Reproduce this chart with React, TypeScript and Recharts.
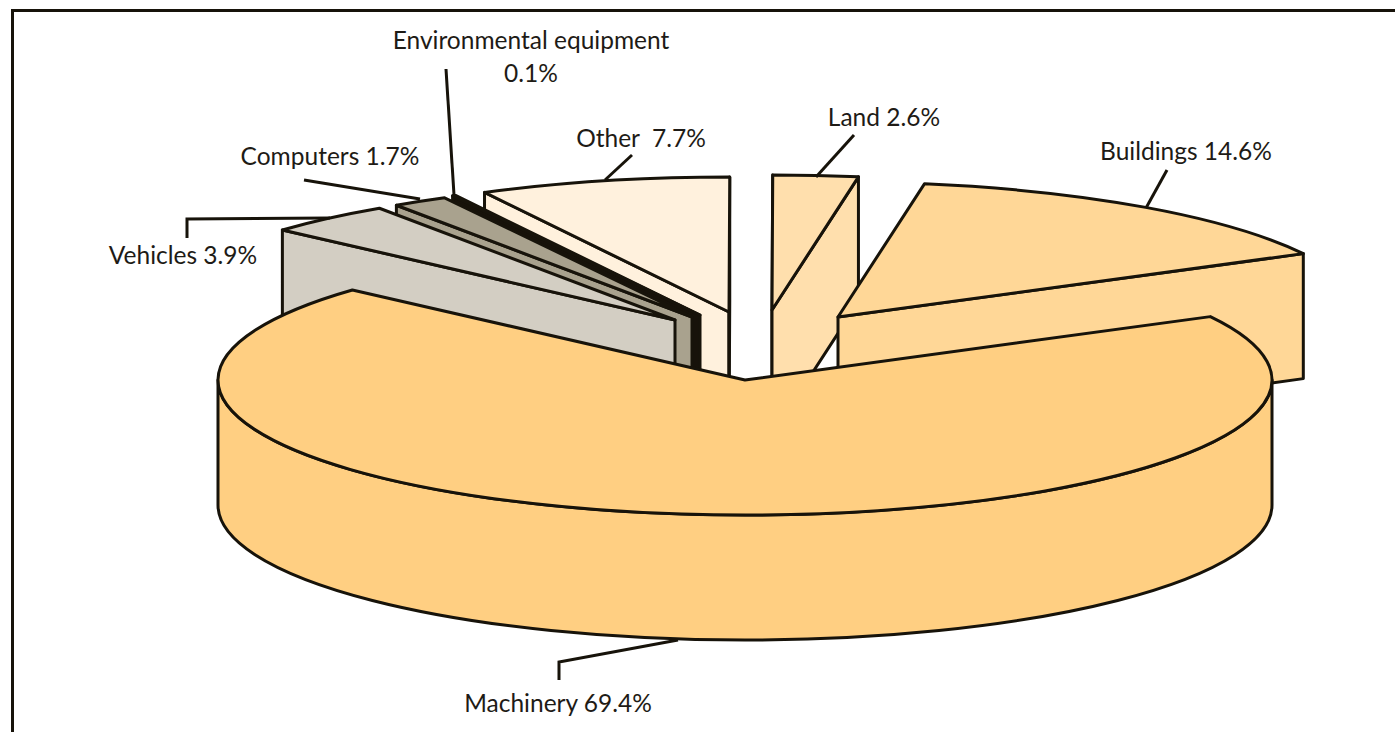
import React from "react";
import { PieChart, Pie } from "recharts";

const categories = ["Buildings", "Land", "Other", "Environmental equipment", "Computers", "Vehicles", "Machinery"];
const shares = [14.6, 2.6, 7.7, 0.1, 1.7, 3.9, 69.4];
const chartData = categories.map((name, i) => ({ name, value: shares[i] }));

const paintOrder = ["Land", "Buildings", "Other", "Environmental equipment", "Computers", "Vehicles", "Machinery"];

const fills: Record<string, string> = {
  Buildings: "#FFD797",
  Land: "#FFDFAD",
  Other: "#FFF1DD",
  "Environmental equipment": "#17120A",
  Computers: "#A9A28E",
  Vehicles: "#D3CEC3",
  Machinery: "#FFCF82",
};
const explode: Record<string, [number, number]> = {
  Buildings: [92, -63],
  Land: [26, -70],
  Other: [-17, -68],
  "Environmental equipment": [-46, -65],
  Computers: [-54, -63],
  Vehicles: [-71, -60],
  Machinery: [-1, 0],
};
const leaders: Record<string, number[][]> = {
  Buildings: [[1167, 170], [1146, 208]],
  Land: [[854, 135], [816, 177]],
  Other: [[632, 155], [605, 180]],
  "Environmental equipment": [[446, 69], [454, 195]],
  Computers: [[304, 180], [420, 199]],
  Vehicles: [[330, 218], [187, 219], [187, 238]],
  Machinery: [[678, 640], [559, 662], [559, 680]],
};
const labelSpots: Record<string, { x: number; y: number[]; lines: (v: number) => string[] }> = {
  Buildings: { x: 1186, y: [160], lines: (v) => [`Buildings ${v}%`] },
  Land: { x: 884, y: [126], lines: (v) => [`Land ${v}%`] },
  Other: { x: 641, y: [147], lines: (v) => [`Other  ${v}%`] },
  "Environmental equipment": { x: 531, y: [49, 82], lines: (v) => ["Environmental equipment", `${v}%`] },
  Computers: { x: 330, y: [165], lines: (v) => [`Computers ${v}%`] },
  Vehicles: { x: 183, y: [264], lines: (v) => [`Vehicles ${v}%`] },
  Machinery: { x: 558, y: [712], lines: (v) => [`Machinery ${v}%`] },
};

const CX = 746;
const CY = 380;
const RX = 527;
const SQUASH = 135 / 527;
const DEPTH = 125;
const INK = "#17130A";
const RAD = Math.PI / 180;

function wedge(props: any) {
  const { cx, cy, outerRadius: r, startAngle, endAngle, name } = props;
  const [ox, oy] = explode[name];
  const rx = r;
  const ry = r * SQUASH;
  const ax = cx + ox;
  const ay = cy + oy;
  const pt = (deg: number, d = 0): [number, number] => [
    ax + rx * Math.cos(deg * RAD),
    ay - ry * Math.sin(deg * RAD) + d,
  ];
  const p = (q: [number, number]) => `${q[0].toFixed(2)} ${q[1].toFixed(2)}`;
  const arc = (from: number, to: number, d: number) => {
    const large = Math.abs(to - from) > 180 ? 1 : 0;
    const sweep = to > from ? 0 : 1;
    return `A ${rx} ${ry} 0 ${large} ${sweep} ${p(pt(to, d))}`;
  };
  const common = { fill: fills[name], stroke: INK, strokeWidth: 3, strokeLinejoin: "round" as const };
  const radial = (deg: number) =>
    `M ${ax} ${ay} L ${p(pt(deg))} L ${p(pt(deg, DEPTH))} L ${ax} ${ay + DEPTH} Z`;

  const parts: React.ReactNode[] = [];
  if (Math.cos(endAngle * RAD) < -0.01 || Math.abs(Math.cos(endAngle * RAD)) <= 0.01) {
    parts.push(<path key="end" d={radial(endAngle)} {...common} />);
  }
  if (Math.cos(startAngle * RAD) >= -0.01) {
    parts.push(<path key="start" d={radial(startAngle)} {...common} />);
  }
  // Outer wall: the part of the rim that faces the viewer (180 to 360 degrees).
  const wallFrom = Math.max(startAngle, 180);
  const wallTo = Math.min(endAngle, 360);
  if (wallTo > wallFrom) {
    parts.push(
      <path
        key="wall"
        d={`M ${p(pt(wallFrom))} ${arc(wallFrom, wallTo, 0)} L ${p(pt(wallTo, DEPTH))} ${arc(wallTo, wallFrom, DEPTH)} Z`}
        {...common}
      />
    );
  }
  parts.push(
    <path
      key="top"
      d={`M ${ax} ${ay} L ${p(pt(startAngle))} ${arc(startAngle, endAngle, 0)} Z`}
      {...common}
    />
  );
  return <g>{parts}</g>;
}

function makeShape(layer: string) {
  return (props: any) => (props.name === layer ? wedge(props) : <g />);
}

function renderLabel(props: any) {
  const name = props.name;
  const spot = labelSpots[name];
  const pts = leaders[name].map((q) => q.join(",")).join(" ");
  return (
    <g key={name}>
      <polyline points={pts} fill="none" stroke={INK} strokeWidth={3} />
      {spot.lines(props.value).map((line, i) => (
        <text
          key={i}
          x={spot.x}
          y={spot.y[i]}
          textAnchor="middle"
          fill="#1E1B16"
          fontFamily="Lato, 'Open Sans', sans-serif"
          fontSize={24.5}
          style={{ whiteSpace: "pre" }}
        >
          {line}
        </text>
      ))}
    </g>
  );
}

export default function App() {
  return (
    <div style={{ position: "absolute", left: 0, top: 0, width: 1395, height: 732, overflow: "hidden", background: "#fff" }}>
      <div
        style={{
          position: "absolute",
          left: 11,
          top: 9,
          width: 1395,
          height: 732,
          borderTop: `3px solid ${INK}`,
          borderLeft: `3px solid ${INK}`,
        }}
      />
      <div style={{ position: "absolute", left: 0, top: 0 }}>
        <PieChart width={1395} height={732} margin={{ top: 0, right: 0, bottom: 0, left: 0 }}>
          {paintOrder.map((layer, i) => (
            <Pie
              key={layer}
              data={chartData}
              dataKey="value"
              nameKey="name"
              cx={CX}
              cy={CY}
              innerRadius={0}
              outerRadius={RX}
              startAngle={28}
              endAngle={388}
              isAnimationActive={false}
              shape={makeShape(layer)}
              stroke="none"
              label={i === paintOrder.length - 1 ? renderLabel : false}
              labelLine={false}
              rootTabIndex={-1}
            />
          ))}
        </PieChart>
      </div>
    </div>
  );
}
